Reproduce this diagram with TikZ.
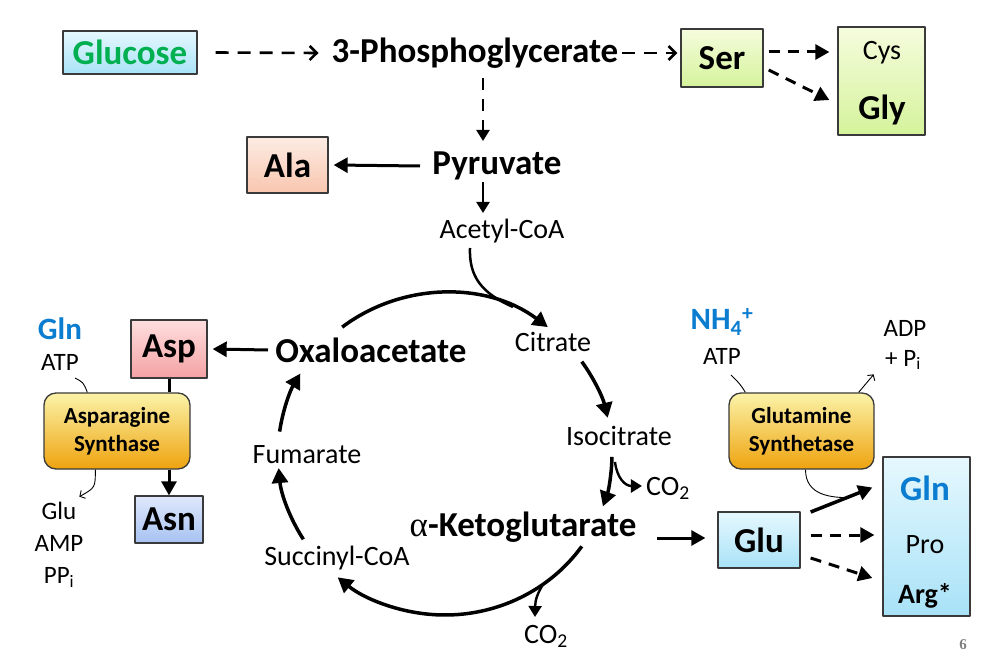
\documentclass[tikz,border=0pt]{standalone}
\usepackage{fontspec}
\setmainfont{Carlito}
\newfontfamily\slidenumfont{Liberation Serif}
\usetikzlibrary{arrows.meta,calc,positioning}
\definecolor{lblgreen}{HTML}{00B050}
\definecolor{lblblue}{HTML}{0B7DD0}
\definecolor{boxline}{HTML}{3A3A3A}
\definecolor{cyanTop}{HTML}{E6F8FE}
\definecolor{cyanBot}{HTML}{A8E2F7}
\definecolor{limeTop}{HTML}{F5FCDD}
\definecolor{limeBot}{HTML}{D5F39B}
\definecolor{salmonTop}{HTML}{FDECE4}
\definecolor{salmonBot}{HTML}{F8C6AE}
\definecolor{pinkTop}{HTML}{FFDEDE}
\definecolor{pinkBot}{HTML}{F4A2A4}
\definecolor{periTop}{HTML}{DFE8FB}
\definecolor{periBot}{HTML}{A7C2F2}
\definecolor{enzTop}{HTML}{FBF3A8}
\definecolor{enzBot}{HTML}{EEA30F}
\newcommand{\cyclerx}{167}
\newcommand{\cyclery}{161}
\tikzset{
  big label/.style={font=\fontsize{35}{40}\selectfont\bfseries,inner sep=1pt},
  mid label/.style={font=\fontsize{28}{33}\selectfont,inner sep=1pt},
  small label/.style={font=\fontsize{25}{32}\selectfont,inner sep=1pt,align=center},
  cofactor/.style={font=\fontsize{31}{36}\selectfont\bfseries,text=lblblue,inner sep=1pt},
  aa box/.style={draw=boxline,line width=1.3pt,inner sep=0pt,font=\fontsize{35}{40}\selectfont\bfseries},
  enzyme/.style={draw=boxline,line width=1.3pt,rounded corners=12pt,top color=enzTop,bottom color=enzBot,
    minimum height=76pt,inner sep=0pt,align=center,font=\fontsize{23}{28}\selectfont\bfseries},
  main arrow/.style={line width=3pt,-{Triangle[length=14pt,width=15pt]}},
  path arrow/.style={line width=2.4pt,-{Triangle[length=11pt,width=13pt]}},
  dash arrow/.style={line width=3pt,dash pattern=on 11pt off 8pt,-{Triangle[length=14pt,width=15pt]}},
  glyc arrow/.style={line width=2.6pt,dash pattern=on 13pt off 9pt,-{Straight Barb[length=7pt,width=14pt]}},
  cycle edge/.style={line width=3.5pt,-{Triangle[length=15pt,width=16pt]}},
  side arrow/.style={line width=0.9pt,-{Straight Barb[length=4pt,width=9pt]}},
  side line/.style={line width=0.9pt}
}
\newcommand{\CycleArc}[2]{%
  \draw[cycle edge] ($(cyc)+({\cyclerx*cos(#1)},{-\cyclery*sin(#1)})$)
    arc[start angle={-(#1)},end angle={-(#2)},x radius=\cyclerx,y radius=\cyclery];}

\begin{document}
\begin{tikzpicture}[x=1pt,y=-1pt,line join=round]
  \useasboundingbox (0,0) rectangle (988,663);

  % glycolysis row
  \node[aa box,top color=cyanTop,bottom color=cyanBot,minimum width=134pt,minimum height=43pt,text=lblgreen] (glucose) at (130,52.5) {Glucose};
  \node[big label] (pga) at (475,53) {3-Phosphoglycerate};
  \node[aa box,top color=limeTop,bottom color=limeBot,minimum width=82pt,minimum height=58pt] (ser) at (722,58) {Ser};
  \node[aa box,top color=limeTop,bottom color=limeBot,minimum width=87pt,minimum height=108pt] (cysgly) at (881.5,81) {};
  \node[mid label] (cys) at (882,53) {Cys};
  \node[big label] (gly) at (882,110) {Gly};
  \node[big label] (pyr) at (497,166) {Pyruvate};
  \node[aa box,top color=salmonTop,bottom color=salmonBot,minimum width=81pt,minimum height=56pt] (ala) at (287.5,165) {Ala};
  \node[mid label] (acoa) at (502,231) {Acetyl-CoA};

  \draw[glyc arrow] ($(glucose.east)+(18,0)$) -- ($(pga.west)+(-12,0)$);
  \draw[glyc arrow] ($(pga.east)+(3,0)$) -- ($(ser.west)+(-3,-5)$);
  \draw[dash arrow] ($(ser.east)+(5,-6)$) -- ($(cysgly.west)+(-8,-29)$);
  \draw[dash arrow] ($(ser.east)+(5,12)$) -- ($(cysgly.west)+(-8,19)$);
  \draw[path arrow,dash pattern=on 12pt off 9pt] ($(pga)+(8,25)$) -- ($(pyr)+(-14,-25)$);
  \draw[main arrow] ($(pyr)+(-77,0)$) -- ($(ala.east)+(5,0)$);
  \draw[path arrow] ($(pyr)+(-14,16)$) -- ($(acoa)+(-19,-18)$);

  % citric acid cycle
  \coordinate (cyc) at (445,454);
  \coordinate (feed) at ($(cyc)+({\cyclerx*cos(66)},{-\cyclery*sin(66)})$);
  \coordinate (kgout) at ($(cyc)+({\cyclerx*cos(-54)},{-\cyclery*sin(-54)})$);
  \draw[line width=2.5pt] ($(acoa)+(-32,17)$) .. controls ($(acoa)+(-33,45)$) and ($(feed)+(-32,-14)$) .. (feed);
  \CycleArc{128}{52}
  \CycleArc{35}{13}
  \CycleArc{-1}{-19}
  \CycleArc{-35}{-130}
  \CycleArc{-148}{-175}
  \CycleArc{172}{150}

  \node[big label] (oaa) at (371,350) {Oxaloacetate};
  \node[mid label] (citr) at (553,342) {Citrate};
  \node[mid label] (isocitr) at (619,436) {Isocitrate};
  \node[big label] (akg) at (523,527) {{\slidenumfont\mdseries α}-Ketoglutarate};
  \node[mid label] (fum) at (307,455) {Fumarate};
  \node[mid label] (succ) at (337,558) {Succinyl-CoA};
  \node[mid label] (co2a) at (668,488) {CO\textsubscript{2}};
  \node[mid label] (co2b) at (546,636) {CO\textsubscript{2}};
  \draw[path arrow] ($(isocitr)+(-4,26)$) .. controls ($(isocitr)+(-2,42)$) and ($(isocitr)+(6,50)$) .. ($(co2a.west)+(-3,-2)$);
  \draw[path arrow] (kgout) .. controls ($(kgout)+(-5,8)$) and ($(kgout)+(-8,15)$) .. ($(co2b)+(-11,-19)$);

  % asparagine branch
  \node[aa box,top color=pinkTop,bottom color=pinkBot,minimum width=76pt,minimum height=58pt] (asp) at (169,349) {Asp};
  \node[enzyme,minimum width=146pt] (asnsyn) at (117,431) {Asparagine\\Synthase};
  \node[aa box,top color=periTop,bottom color=periBot,minimum width=68pt,minimum height=47pt] (asn) at (169,519.5) {Asn};
  \node[cofactor] (glnL) at (60,329) {Gln};
  \node[small label] (atpL) at (60,362) {ATP};
  \node[small label] (byprodL) at (59,545) {Glu\\AMP\\PP\textsubscript{i}};
  \draw[main arrow] ($(oaa)+(-103,0)$) -- ($(asp.east)+(5,0)$);
  \draw[line width=3pt] (asp.south) -- (asp.south |- asnsyn.north);
  \draw[main arrow] (asp.south |- asnsyn.south) -- (asn.north);
  \draw[side line] ($(atpL)+(15,16)$) .. controls ($(asnsyn.north west)+(40,-10)$) .. ($(asnsyn.north west)+(44,0)$);
  \draw[side arrow] ($(asnsyn.south west)+(52,0)$) .. controls ($(asnsyn.south west)+(52,18)$) .. ($(asnsyn.south west)+(36,27)$);

  % glutamate branch
  \node[aa box,top color=cyanTop,bottom color=cyanBot,minimum width=82pt,minimum height=56pt] (glu) at (759,540) {Glu};
  \node[enzyme,minimum width=145pt] (glnsyn) at (801.5,431) {Glutamine\\Synthetase};
  \node[cofactor] (nh4) at (722,322) {NH\textsubscript{4}\textsuperscript{+}};
  \node[small label] (atpR) at (722,356) {ATP};
  \node[small label] (adp) at (905,328) {ADP};
  \node[small label] (pi) at (903,360) {+ P\textsubscript{i}};
  \node[aa box,top color=cyanTop,bottom color=cyanBot,minimum width=87pt,minimum height=159pt] (prod) at (926.5,536.5) {};
  \node[cofactor,font=\fontsize{35}{40}\selectfont\bfseries] (glnR) at (925,488) {Gln};
  \node[mid label] (pro) at (925,545) {Pro};
  \node[mid label,font=\fontsize{28}{33}\selectfont\bfseries] (arg) at (925,596) {Arg*};
  \draw[main arrow] ($(akg)+(134,11)$) -- ($(glu.west)+(-12,-2)$);
  \draw[side line] ($(atpR)+(9,19)$) .. controls ($(glnsyn.north west)+(12,-8)$) .. ($(glnsyn.north west)+(17,0)$);
  \draw[side arrow] ($(glnsyn.north east)+(-16,0)$) .. controls ($(glnsyn.north east)+(-8,-8)$) .. ($(glnsyn.north east)+(-1,-18)$);
  \draw[side line] ($(glnsyn.south)+(4,0)$) .. controls ($(glnsyn.south)+(4,26)$) and ($(glnsyn.south)+(30,28)$) .. ($(glnsyn.south)+(48,28)$);
  \draw[main arrow,line width=3.5pt] ($(glu.east)+(10,-28)$) -- ($(prod.west)+(-10,-49)$);
  \draw[dash arrow] ($(glu.east)+(10,-5)$) -- ($(prod.west)+(-8,-1.5)$);
  \draw[dash arrow] ($(glu.east)+(10,18)$) -- ($(prod.west)+(-10,41.5)$);

  \node[font=\slidenumfont\fontsize{15}{18}\selectfont\bfseries,text=gray] (pagenum) at (963,645) {6};
\end{tikzpicture}
\end{document}
